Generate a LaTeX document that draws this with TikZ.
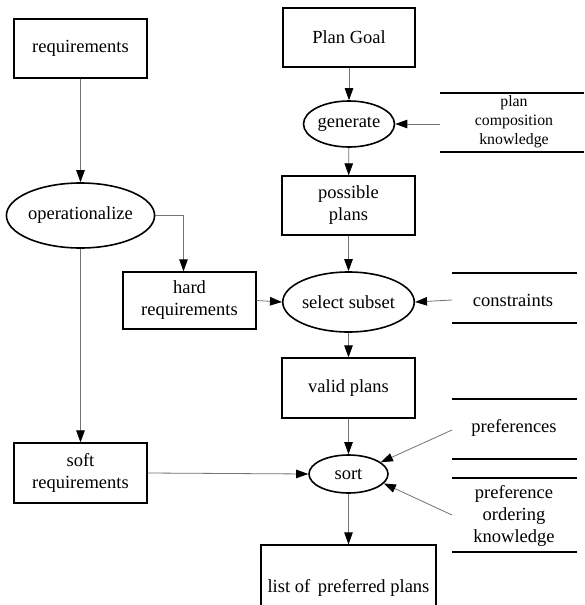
\documentclass[tikz,border=0pt]{standalone}
\usepackage{fontspec}
\setmainfont{Liberation Serif}
\newfontfamily\labelfont{Liberation Serif}
\usetikzlibrary{shapes.geometric,arrows.meta}
\begin{document}
\begin{tikzpicture}[x=1pt,y=-1pt,
  every node/.style={font=\labelfont\fontsize{18.5}{22}\selectfont, align=center, inner sep=0pt},
  box/.style={draw=black, line width=1.3pt, rectangle},
  proc/.style={draw=black, line width=1.6pt, ellipse},
  store/.style={draw=black, line width=1.6pt},
  flow/.style={draw=black!55, line width=0.8pt,
    -{Triangle[length=12pt,width=8.5pt,fill=black,color=black]}},
  small/.style={font=\labelfont\fontsize{15.8}{19}\selectfont}]
\useasboundingbox (0,0) rectangle (584,605);
\clip (0,0) rectangle (584,605);
\fill[white] (0,0) rectangle (584,605);

% processing chain
\node[box, minimum width=132pt, minimum height=59pt] (goal) at (349,37.5) {Plan Goal};
\node[proc, minimum width=91pt, minimum height=46pt] (gen) at (349,124) {generate};
\node[box, minimum width=133pt, minimum height=59pt] (poss) at (348.5,205.5) {possible\\plans};
\node[proc, minimum width=127pt, minimum height=60pt] (sel) at (348.5,302) {select subset};
\node[box, minimum width=133pt, minimum height=60pt] (valid) at (348.5,388) {valid plans};
\node[proc, minimum width=79pt, minimum height=38pt] (sort) at (348.5,474) {sort};
\node[box, minimum width=175pt, minimum height=86pt] (list) at (348.5,588) {list of\, preferred plans};

% requirements side
\node[box, minimum width=133pt, minimum height=59pt] (req) at (80.5,48.5) {requirements};
\node[proc, minimum width=133pt, minimum height=65pt] (oper) at (80.5,215.5) {operationalize};
\node[box, minimum width=133pt, minimum height=57pt] (hard) at (189.5,300.5) {hard\\requirements};
\node[box, minimum width=133pt, minimum height=60pt] (soft) at (80.5,473) {soft\\requirements};

% data stores
\draw[store] (440,93) -- (584,93) (440,152) -- (584,152);
\node[small] (pck) at (514,122) {plan\\composition\\knowledge};
\coordinate (pckin) at (440,124);

\draw[store] (452,273) -- (577,273) (452,323) -- (577,323);
\node (cons) at (513,300) {constraints};
\coordinate (consin) at (452,300);

\draw[store] (452,399) -- (577,399) (452,459) -- (577,459);
\node (pref) at (514,428) {preferences};
\coordinate (prefin) at (452,430);

\draw[store] (452,478) -- (577,478) (452,552) -- (577,552);
\node (pok) at (514,516) {preference\\ordering\\knowledge};
\coordinate (pokin) at (452,515);

% connectors
\draw[flow] (goal) -- (gen);
\draw[flow] (gen) -- (poss);
\draw[flow] (poss) -- (sel);
\draw[flow] (sel) -- (valid);
\draw[flow] (valid) -- (sort);
\draw[flow] (sort) -- (list);
\draw[flow] (pckin) -- (gen.east);
\draw[flow] (consin) -- (sel.east);
\draw[flow] (prefin) -- (sort.20);
\draw[flow] (pokin) -- (sort.-15);
\draw[flow] (req) -- (oper);
\draw[flow] (oper.east) -| ([xshift=-6pt]hard.north);
\draw[flow] (oper) -- (soft);
\draw[flow] (hard.east) -- (sel.west);
\draw[flow] (soft.east) -- (sort.west);
\end{tikzpicture}
\end{document}
